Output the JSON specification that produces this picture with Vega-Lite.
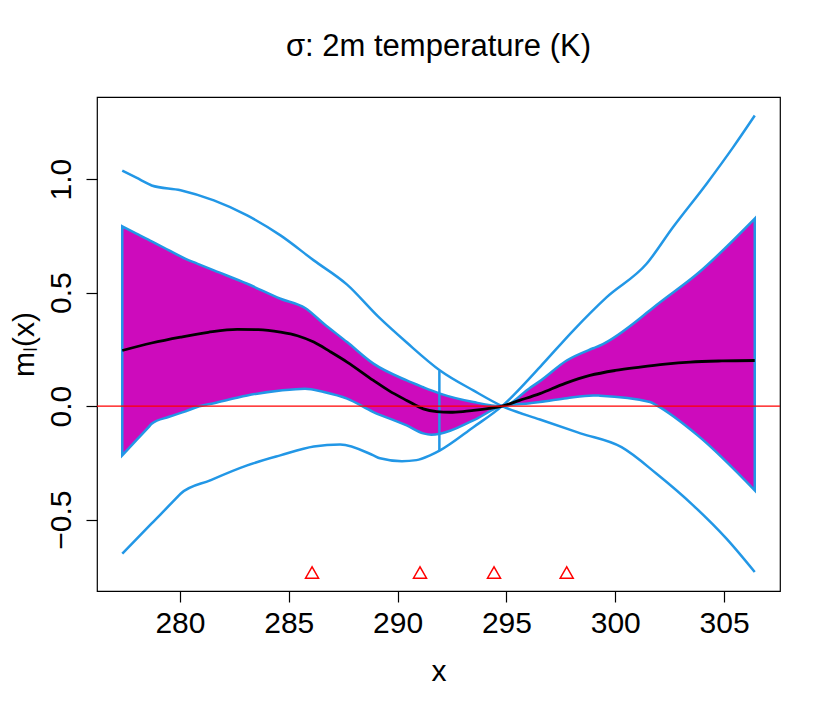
{
  "$schema": "https://vega.github.io/schema/vega-lite/v6.json",
  "width": 683,
  "height": 494,
  "autosize": {"type": "none"},
  "padding": {"left": 97, "top": 97, "right": 50, "bottom": 121},
  "background": "white",
  "title": {
    "text": "σ: 2m temperature (K)",
    "font": "Liberation Sans",
    "fontSize": 31,
    "fontWeight": "normal",
    "color": "black",
    "anchor": "middle",
    "frame": "group",
    "baseline": "alphabetic",
    "offset": 10
  },
  "config": {
    "view": {"stroke": "black", "strokeWidth": 1.2},
    "axis": {
      "labelFont": "Liberation Sans",
      "titleFont": "Liberation Sans",
      "labelFontSize": 30,
      "titleFontSize": 30,
      "titleFontWeight": "normal",
      "labelColor": "black",
      "titleColor": "black",
      "tickColor": "black",
      "tickWidth": 1.2,
      "tickSize": 11,
      "domain": false,
      "grid": false,
      "labelFlush": false,
      "labelOverlap": false
    }
  },
  "datasets": {
    "band": [
      {"x": 277.35, "lo": -0.217, "hi": 0.792},
      {"x": 278.00, "lo": -0.150, "hi": 0.760},
      {"x": 278.55, "lo": -0.094, "hi": 0.733},
      {"x": 278.70, "lo": -0.078, "hi": 0.726},
      {"x": 279.50, "lo": -0.047, "hi": 0.686},
      {"x": 280.26, "lo": -0.023, "hi": 0.649},
      {"x": 280.79, "lo": -0.004, "hi": 0.628},
      {"x": 281.56, "lo": 0.013, "hi": 0.598},
      {"x": 283.09, "lo": 0.047, "hi": 0.539},
      {"x": 284.62, "lo": 0.069, "hi": 0.473},
      {"x": 285.75, "lo": 0.077, "hi": 0.432},
      {"x": 286.61, "lo": 0.062, "hi": 0.363},
      {"x": 287.68, "lo": 0.033, "hi": 0.282},
      {"x": 288.89, "lo": -0.026, "hi": 0.187},
      {"x": 290.42, "lo": -0.085, "hi": 0.113},
      {"x": 291.18, "lo": -0.120, "hi": 0.083},
      {"x": 291.55, "lo": -0.126, "hi": 0.069},
      {"x": 291.95, "lo": -0.122, "hi": 0.055},
      {"x": 293.48, "lo": -0.063, "hi": 0.018},
      {"x": 294.80, "lo": 0.0, "hi": 0.0},
      {"x": 296.08, "lo": 0.013, "hi": 0.080},
      {"x": 296.54, "lo": 0.018, "hi": 0.110},
      {"x": 297.77, "lo": 0.035, "hi": 0.201},
      {"x": 298.99, "lo": 0.047, "hi": 0.255},
      {"x": 299.30, "lo": 0.046, "hi": 0.267},
      {"x": 301.60, "lo": 0.018, "hi": 0.422},
      {"x": 301.90, "lo": 0.003, "hi": 0.445},
      {"x": 303.80, "lo": -0.130, "hi": 0.585},
      {"x": 306.41, "lo": -0.371, "hi": 0.826}
    ],
    "outer1": [
      {"x": 277.35, "y": 1.037},
      {"x": 278.00, "y": 1.006},
      {"x": 278.55, "y": 0.979},
      {"x": 278.70, "y": 0.972},
      {"x": 280.03, "y": 0.951},
      {"x": 281.56, "y": 0.906},
      {"x": 283.09, "y": 0.840},
      {"x": 284.62, "y": 0.752},
      {"x": 286.15, "y": 0.642},
      {"x": 287.68, "y": 0.535},
      {"x": 289.10, "y": 0.395},
      {"x": 290.42, "y": 0.280},
      {"x": 291.95, "y": 0.157},
      {"x": 293.48, "y": 0.069},
      {"x": 294.80, "y": 0.0},
      {"x": 296.54, "y": -0.059},
      {"x": 298.40, "y": -0.120},
      {"x": 300.29, "y": -0.181},
      {"x": 301.90, "y": -0.298},
      {"x": 303.58, "y": -0.437},
      {"x": 305.11, "y": -0.584},
      {"x": 306.41, "y": -0.731}
    ],
    "outer2": [
      {"x": 277.35, "y": -0.650},
      {"x": 278.69, "y": -0.518},
      {"x": 279.80, "y": -0.409},
      {"x": 280.03, "y": -0.386},
      {"x": 281.39, "y": -0.327},
      {"x": 283.09, "y": -0.261},
      {"x": 284.61, "y": -0.217},
      {"x": 286.15, "y": -0.178},
      {"x": 287.36, "y": -0.169},
      {"x": 288.89, "y": -0.217},
      {"x": 289.19, "y": -0.230},
      {"x": 290.20, "y": -0.243},
      {"x": 290.87, "y": -0.238},
      {"x": 291.49, "y": -0.217},
      {"x": 291.95, "y": -0.195},
      {"x": 293.48, "y": -0.093},
      {"x": 294.80, "y": 0.0},
      {"x": 296.54, "y": 0.172},
      {"x": 298.07, "y": 0.333},
      {"x": 299.61, "y": 0.480},
      {"x": 301.44, "y": 0.627},
      {"x": 302.66, "y": 0.789},
      {"x": 304.20, "y": 0.980},
      {"x": 305.42, "y": 1.141},
      {"x": 306.41, "y": 1.280}
    ],
    "fit": [
      {"x": 277.35, "y": 0.245},
      {"x": 278.70, "y": 0.278},
      {"x": 280.03, "y": 0.304},
      {"x": 281.30, "y": 0.325},
      {"x": 282.63, "y": 0.338},
      {"x": 283.60, "y": 0.337},
      {"x": 284.62, "y": 0.326},
      {"x": 285.40, "y": 0.310},
      {"x": 286.15, "y": 0.282},
      {"x": 286.90, "y": 0.240},
      {"x": 287.68, "y": 0.194},
      {"x": 288.89, "y": 0.113},
      {"x": 289.60, "y": 0.068},
      {"x": 290.42, "y": 0.025},
      {"x": 291.18, "y": -0.012},
      {"x": 291.80, "y": -0.024},
      {"x": 292.41, "y": -0.027},
      {"x": 293.00, "y": -0.024},
      {"x": 293.48, "y": -0.019},
      {"x": 294.20, "y": -0.010},
      {"x": 294.80, "y": 0.0},
      {"x": 295.60, "y": 0.025},
      {"x": 296.54, "y": 0.055},
      {"x": 297.70, "y": 0.100},
      {"x": 298.84, "y": 0.135},
      {"x": 300.00, "y": 0.157},
      {"x": 301.14, "y": 0.172},
      {"x": 302.30, "y": 0.185},
      {"x": 303.44, "y": 0.194},
      {"x": 304.90, "y": 0.199},
      {"x": 306.41, "y": 0.201}
    ],
    "seg": [
      {"x": 291.92, "lo": -0.195, "hi": 0.157}
    ],
    "pts": [
      {"x": 286.07, "y": -0.733},
      {"x": 291.03, "y": -0.733},
      {"x": 294.43, "y": -0.733},
      {"x": 297.77, "y": -0.733}
    ]
  },
  "encoding": {
    "x": {
      "field": "x",
      "type": "quantitative",
      "scale": {"domain": [276.19, 307.57], "nice": false, "zero": false},
      "axis": {
        "values": [280, 285, 290, 295, 300, 305],
        "title": "x",
        "labelPadding": 6,
        "labelBaseline": "top",
        "titleY": 89,
        "titleBaseline": "alphabetic"
      }
    }
  },
  "layer": [
    {
      "data": {"name": "band"},
      "mark": {"type": "area", "fill": "#CD0BBC", "stroke": "#2297E6", "strokeWidth": 2.5, "opacity": 1, "interpolate": "monotone"},
      "encoding": {
        "y": {
          "field": "lo",
          "type": "quantitative",
          "scale": {"domain": [-0.8145, 1.3617], "nice": false, "zero": false},
          "axis": {
            "values": [-0.5, 0, 0.5, 1],
            "format": ".1f",
            "labelAngle": 270,
            "labelAlign": "center",
            "labelBaseline": "bottom",
            "labelPadding": 10,
            "title": "mₗ(x)",
            "titleAngle": 270,
            "titleAlign": "center",
            "titleBaseline": "alphabetic",
            "titleX": -64,
            "titleY": 247
          }
        },
        "y2": {"field": "hi"}
      }
    },
    {
      "data": {"name": "outer1"},
      "mark": {"type": "line", "color": "#2297E6", "strokeWidth": 2.5, "interpolate": "monotone"},
      "encoding": {"y": {"field": "y", "type": "quantitative"}}
    },
    {
      "data": {"name": "outer2"},
      "mark": {"type": "line", "color": "#2297E6", "strokeWidth": 2.5, "interpolate": "monotone"},
      "encoding": {"y": {"field": "y", "type": "quantitative"}}
    },
    {
      "data": {"name": "seg"},
      "mark": {"type": "rule", "color": "#2297E6", "strokeWidth": 2.5},
      "encoding": {"y": {"field": "lo", "type": "quantitative"}, "y2": {"field": "hi"}}
    },
    {
      "data": {"name": "fit"},
      "mark": {"type": "line", "color": "black", "strokeWidth": 2.8, "interpolate": "monotone"},
      "encoding": {"y": {"field": "y", "type": "quantitative"}}
    },
    {
      "data": {"values": [{}]},
      "mark": {"type": "rule", "color": "red", "strokeWidth": 1.3},
      "encoding": {"x": null, "y": {"datum": 0, "type": "quantitative"}}
    },
    {
      "data": {"name": "pts"},
      "mark": {"type": "point", "shape": "triangle-up", "filled": false, "stroke": "red", "strokeWidth": 1.5, "size": 170, "opacity": 1},
      "encoding": {"y": {"field": "y", "type": "quantitative"}}
    }
  ]
}
